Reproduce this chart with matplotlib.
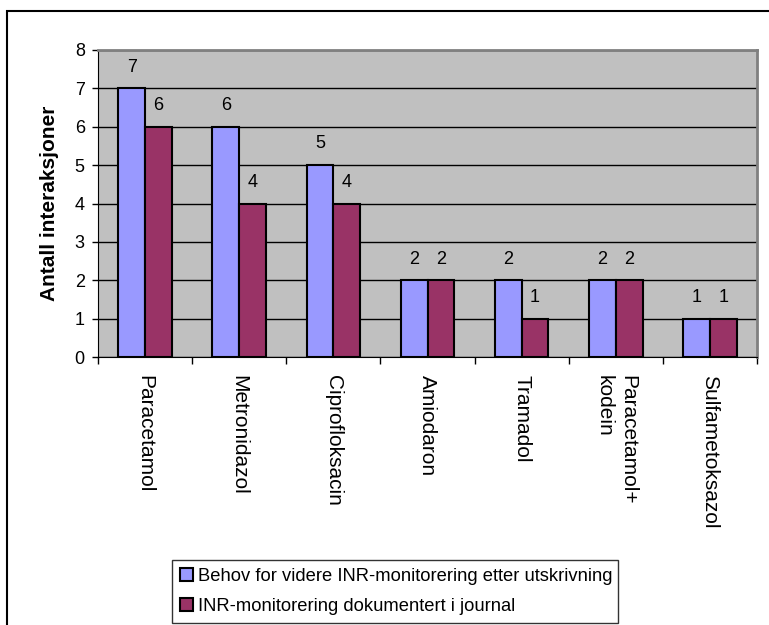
import numpy as np
import matplotlib.pyplot as plt
from matplotlib.patches import Rectangle

legemidler = ["Paracetamol", "Metronidazol", "Ciprofloksacin", "Amiodaron",
              "Tramadol", "Paracetamol+\nkodein", "Sulfametoksazol"]
behov = [7, 6, 5, 2, 2, 2, 1]
dokumentert = [6, 4, 4, 2, 1, 2, 1]
serie_navn = ["Behov for videre INR-monitorering etter utskrivning",
              "INR-monitorering dokumentert i journal"]

plt.rcParams['font.family'] = ['Liberation Sans', 'DejaVu Sans']
plt.rcParams['font.size'] = 13

fig = plt.figure(figsize=(7.69, 6.25), dpi=100)
ax = fig.add_axes([98 / 769, 1 - 357 / 625, 659 / 769, 307 / 625])

x = np.arange(len(legemidler))
w = 0.285
b1 = ax.bar(x - w / 2, behov, w, color='#9999FF', edgecolor='black', linewidth=1.5,
            label=serie_navn[0], zorder=3)
b2 = ax.bar(x + w / 2, dokumentert, w, color='#993366', edgecolor='black', linewidth=1.5,
            label=serie_navn[1], zorder=3)

for bars, vals in ((b1, behov), (b2, dokumentert)):
    for rect, v in zip(bars, vals):
        ax.annotate(str(v), (rect.get_x() + rect.get_width() / 2, v),
                    xytext=(0, 12), textcoords='offset points',
                    ha='center', va='baseline', fontsize=13)

ax.set_facecolor('#C0C0C0')
ax.set_xlim(-0.5, len(legemidler) - 0.5)
ax.set_ylim(0, 8)
ax.set_yticks(range(0, 9))
ax.yaxis.grid(True, color='black', linewidth=1, zorder=0)
ax.set_axisbelow(True)

ax.set_xticks(x)
ax.set_xticklabels(legemidler, rotation=270, ha='center', va='top',
                   multialignment='left', fontsize=15, linespacing=1.3)
ax.set_xticks(np.arange(-0.5, len(legemidler)), minor=True)
ax.tick_params(axis='x', which='major', length=0, pad=13)
ax.tick_params(axis='x', which='minor', length=5, width=1, color='black')
ax.tick_params(axis='y', length=4.5, width=1, pad=5, labelsize=13)

ax.spines['top'].set_color('#808080')
ax.spines['right'].set_color('#808080')
ax.spines['top'].set_linewidth(2)
ax.spines['right'].set_linewidth(2)
ax.spines['left'].set_color('black')
ax.spines['bottom'].set_color('black')

ax.set_ylabel("Antall interaksjoner", fontweight='bold', fontsize=15, labelpad=11)

leg = fig.legend(handles=[b1, b2], loc='lower left',
                 bbox_to_anchor=(172 / 769, 1 - 623 / 625, 446 / 769, 67 / 625),
                 mode='expand', fancybox=False, edgecolor='black',
                 handlelength=0.7, handleheight=0.7, handletextpad=0.25,
                 borderpad=0.45, labelspacing=0.7, borderaxespad=0, fontsize=13.2)
leg.get_frame().set_linewidth(1)

fig.patches.append(Rectangle((7 / 769, -0.1), 2, 1 - 11 / 625 + 0.1,
                             transform=fig.transFigure, fill=False,
                             edgecolor='black', linewidth=1.5))

fig.savefig('out.png', dpi=100)
